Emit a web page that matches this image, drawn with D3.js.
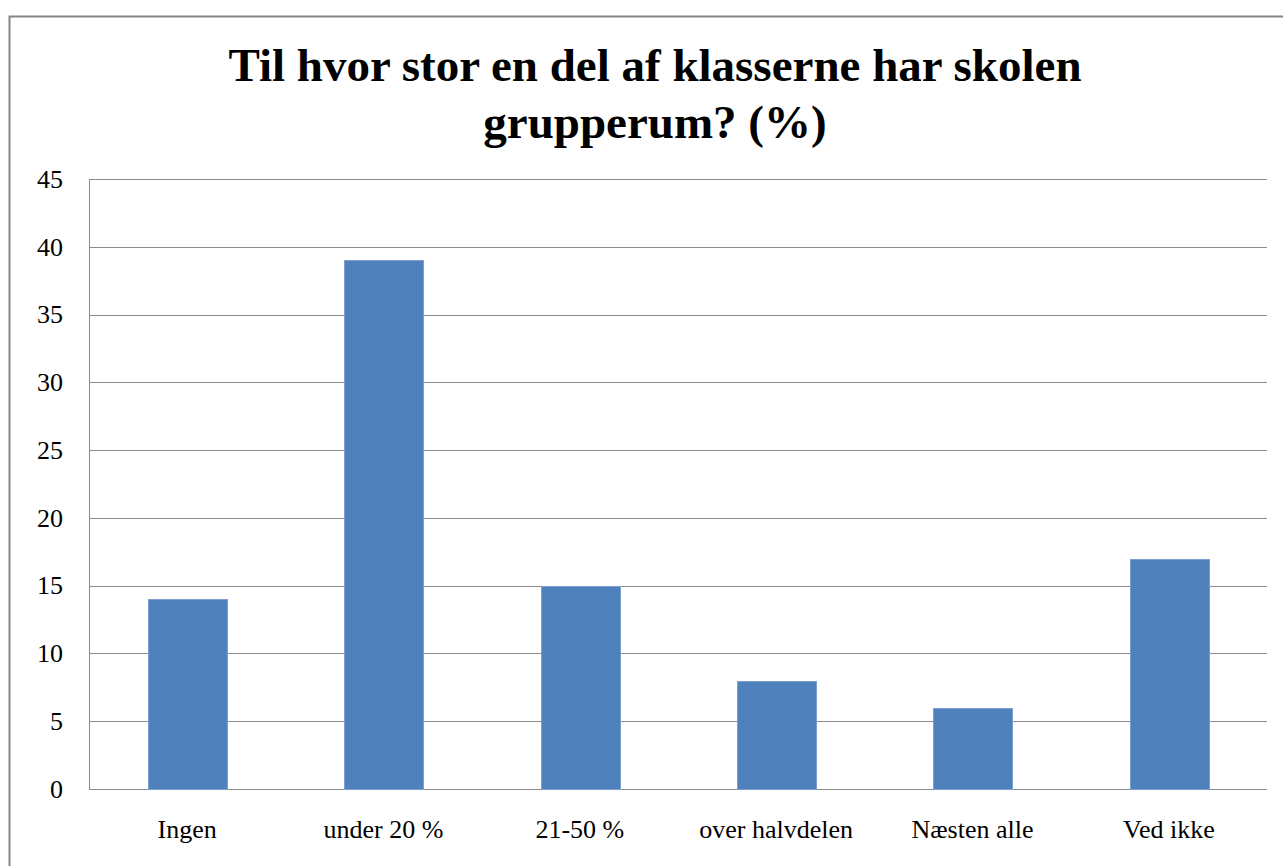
<!DOCTYPE html>
<html>
<head>
<meta charset="utf-8">
<style>
  body { margin: 0; background: #fff; }
  svg text { font-family: "Liberation Serif", serif; }
  .grid line { stroke: #8c8c8c; shape-rendering: crispEdges; }
  .grid path { display: none; }
  .axis path, .axis line { display: none; }
  .bar { fill: #4f81bd; stroke: #7d9fcf; stroke-width: 1; shape-rendering: crispEdges; }
</style>
</head>
<body>
<svg id="chart" width="1283" height="866" font-family="Liberation Serif"></svg>
<script src="https://d3js.org/d3.v7.min.js"></script>
<script>
// chart data
var categories = ["Ingen", "under 20 %", "21-50 %", "over halvdelen", "Næsten alle", "Ved ikke"];
var values = [14, 39, 15, 8, 6, 17];
var yTicks = [0, 5, 10, 15, 20, 25, 30, 35, 40, 45];
var titleLines = ["Til hvor stor en del af klasserne har skolen", "grupperum? (%)"];

var serif = "Liberation Serif";
var W = 1283, H = 866;
var plot = {left: 89, right: 1267, top: 179, bottom: 789};

var svg = d3.select("#chart");

// outer chart border (right/bottom run off the picture)
svg.append("rect")
    .attr("x", 9.5).attr("y", 16.5)
    .attr("width", W + 10).attr("height", H + 10)
    .attr("fill", "#fff")
    .attr("stroke", "#868686")
    .attr("stroke-width", 2);

// title
svg.append("text")
    .attr("text-anchor", "middle")
    .attr("font-weight", "bold")
    .attr("font-size", 47)
    .attr("fill", "#000")
    .selectAll("tspan")
    .data(titleLines)
  .enter().append("tspan")
    .attr("x", 655)
    .attr("y", function(d, i) { return 81 + i * 57; })
    .text(function(d) { return d; });

var x = d3.scaleBand()
    .domain(categories)
    .range([plot.left, plot.right])
    .paddingInner(0.6)
    .paddingOuter(0.3);

var y = d3.scaleLinear()
    .domain([0, 45])
    .range([plot.bottom, plot.top]);

// gridlines
svg.append("g")
    .attr("class", "grid")
    .attr("transform", "translate(" + plot.left + ",0)")
    .call(d3.axisRight(y).tickValues(yTicks).tickSize(plot.right - plot.left).tickFormat(""));

// left edge of plot area
svg.append("line")
    .attr("x1", plot.left + 0.5).attr("x2", plot.left + 0.5)
    .attr("y1", plot.top).attr("y2", plot.bottom)
    .attr("stroke", "#8c8c8c");

// y axis labels
svg.append("g")
    .attr("class", "axis")
    .attr("transform", "translate(" + (plot.left - 26) + ",0)")
    .call(d3.axisLeft(y).tickValues(yTicks).tickSize(0).tickPadding(0))
    .attr("font-family", serif)
    .attr("font-size", 26)
  .selectAll("text")
    .attr("fill", "#000");

// bars
svg.selectAll(".bar")
    .data(values)
  .enter().append("rect")
    .attr("class", "bar")
    .attr("x", function(d, i) { return Math.round(x(categories[i])) + 0.5; })
    .attr("width", Math.round(x.bandwidth()))
    .attr("y", function(d) { return Math.round(y(d)) + 0.5; })
    .attr("height", function(d) { return Math.round(y(0) - y(d)); });

// x axis labels
svg.append("g")
    .attr("class", "axis")
    .attr("transform", "translate(0," + (plot.bottom + 30.5) + ")")
    .call(d3.axisBottom(x).tickSize(0).tickPadding(0))
    .attr("font-family", serif)
    .attr("font-size", 26)
  .selectAll("text")
    .attr("fill", "#000");
</script>
</body>
</html>
